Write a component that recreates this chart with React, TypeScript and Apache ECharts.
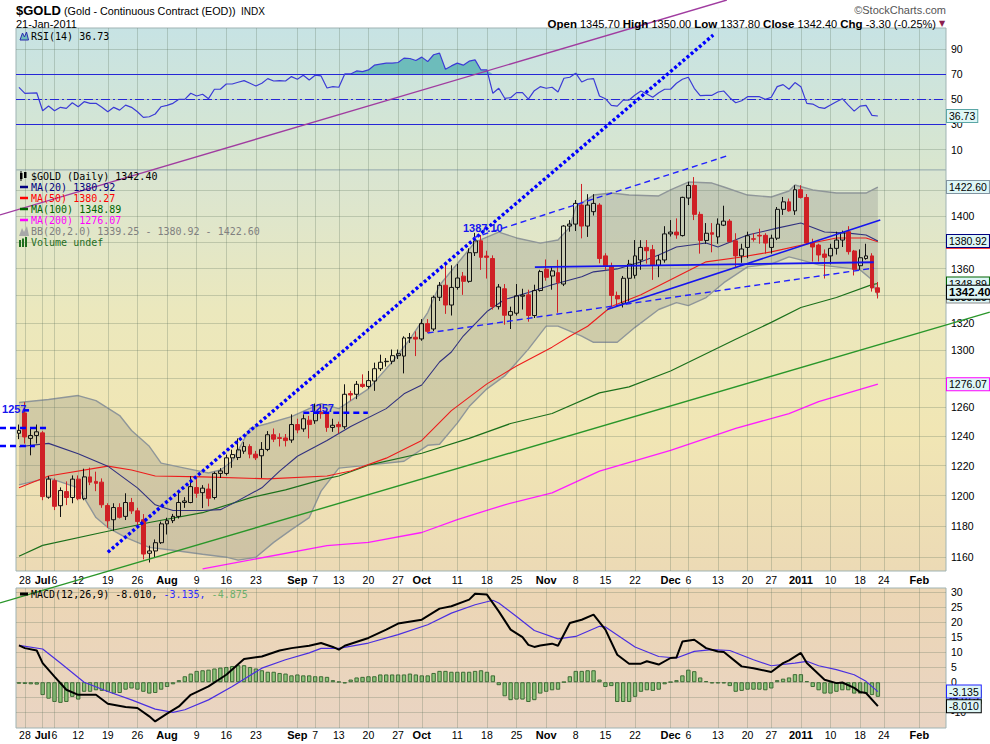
import React, { useEffect, useRef } from "react";
import * as echarts from "echarts";

const FONT = '"Liberation Sans", Arial, Helvetica, sans-serif';
const MONO = '"DejaVu Sans Mono", "Liberation Mono", monospace';

// ---------- calendar ----------
const START_DATE = "2010-06-25";
const HOLIDAYS = ["2010-07-05", "2010-09-06", "2010-11-25", "2010-12-24", "2011-01-17"];
const SLOT_COUNT = 157;
function tradingDays(): string[] {
  const out: string[] = [];
  const d = new Date(START_DATE + "T12:00:00Z");
  while (out.length < SLOT_COUNT) {
    const wd = d.getUTCDay();
    const s = d.toISOString().slice(0, 10);
    if (wd !== 0 && wd !== 6 && HOLIDAYS.indexOf(s) < 0) out.push(s);
    d.setUTCDate(d.getUTCDate() + 1);
  }
  return out;
}
const DAYS = tradingDays();

// x tick labels: [day index, text]
const X_TICKS: Array<[number, string]> = [
  [1, "28"], [4, "Jul"], [6, "6"], [10, "12"], [15, "19"], [20, "26"], [25, "Aug"], [30, "9"],
  [35, "16"], [40, "23"], [47, "Sep"], [50, "7"], [54, "13"], [59, "20"], [64, "27"], [68, "Oct"],
  [74, "11"], [79, "18"], [84, "25"], [89, "Nov"], [94, "8"], [99, "15"], [104, "22"], [110, "Dec"],
  [113, "6"], [118, "13"], [123, "20"], [127, "27"], [132, "2011"], [137, "10"], [142, "18"],
  [146, "24"], [152, "Feb"],
];
const BOLD_TICKS = ["Jul", "Aug", "Sep", "Oct", "Nov", "Dec", "2011", "Feb"];

// ---------- price (OHLC) ----------
const OPEN = [
  1242, 1256, 1238.5, 1240.5, 1242.3, 1199, 1210, 1193.4, 1202.7, 1198.8,
  1211, 1198, 1212.5, 1209.5, 1209, 1193.5, 1184.2, 1192.2, 1186.4, 1195.5,
  1190, 1184.2, 1162.5, 1164, 1169.3, 1181.5, 1183.6, 1186.4, 1195.5, 1195.5,
  1205.4, 1202, 1204.4, 1198.8, 1214.8, 1214.8, 1225.3, 1225.5, 1229.8, 1233,
  1227.8, 1226.7, 1231, 1241, 1239, 1238.8, 1237.4, 1248, 1245, 1251,
  1250.6, 1256.5, 1256, 1246, 1248, 1246.5, 1269.5, 1269, 1276, 1274.5,
  1278.3, 1287, 1292, 1292.3, 1296.3, 1296, 1309, 1309.5, 1308.3, 1319.4,
  1315.5, 1338.7, 1347.6, 1333, 1346, 1354.4, 1350.5, 1372, 1381, 1369.5,
  1367.6, 1331.8, 1345, 1325.5, 1327, 1339.5, 1340.5, 1325.3, 1343.7, 1359.5,
  1354.5, 1357, 1348.5, 1392.3, 1393.8, 1408.5, 1392.3, 1403.4, 1408.5, 1369.6,
  1362, 1340, 1334.3, 1352.8, 1355, 1366.5, 1376, 1374.3, 1362.5, 1366.5,
  1386.3, 1387.7, 1385, 1414, 1423.8, 1401.3, 1381.3, 1387.2, 1384, 1393,
  1396.1, 1381, 1369.6, 1376, 1382.6, 1385.2, 1385.2, 1376, 1383, 1405.2,
  1411, 1404, 1420.5, 1414.4, 1379.3, 1377.8, 1371, 1369.6, 1375.3, 1381.6,
  1388, 1373.3, 1362.2, 1367.6, 1369.6, 1345.7,
];
const HIGH = [
  1248, 1263.5, 1245, 1248, 1243.5, 1213, 1211.5, 1205.5, 1209.5, 1213.5,
  1213.5, 1218, 1218.7, 1216, 1211.5, 1195, 1195, 1195, 1201.6, 1198.5,
  1192, 1187.9, 1167.4, 1171.4, 1183, 1185.5, 1188, 1203, 1199, 1213,
  1211.8, 1207, 1208, 1216, 1218.4, 1227.5, 1230.8, 1238.5, 1236, 1234.5,
  1230, 1236, 1243.5, 1245.3, 1242, 1241.5, 1255, 1252, 1255, 1254,
  1262.5, 1262, 1258.5, 1252, 1250, 1276, 1271.4, 1278.3, 1283, 1285.4,
  1291.3, 1297, 1294.6, 1300.7, 1300.7, 1310.2, 1312.6, 1313.8, 1322.7, 1322.7,
  1340, 1350, 1365, 1362.5, 1363.5, 1357.5, 1375.3, 1387.1, 1385.5, 1373.5,
  1370, 1348.5, 1348.5, 1331.8, 1348.5, 1345, 1344.3, 1348, 1359.1, 1366.9,
  1361, 1366.6, 1393, 1396.9, 1412.4, 1425, 1417, 1417, 1410, 1371.6,
  1364.5, 1342.9, 1354.5, 1366.6, 1381.6, 1381.5, 1381.6, 1377.9, 1370.3, 1392.2,
  1396.9, 1398.2, 1415, 1426.7, 1430.4, 1403.4, 1394.6, 1394.6, 1398.2, 1408,
  1397.7, 1386.8, 1378.8, 1388, 1386.8, 1390.3, 1386.8, 1385.7, 1407, 1414.8,
  1413.6, 1424, 1424, 1417.1, 1382.6, 1378.8, 1374.5, 1378.8, 1388, 1388.8,
  1392.2, 1374.1, 1374.5, 1378.8, 1371.6, 1350,
];
const LOW = [
  1238, 1235, 1227, 1235, 1197, 1198, 1190.5, 1186, 1193.8, 1195,
  1197, 1197, 1207, 1203, 1192, 1179, 1177, 1185, 1184, 1188,
  1180.5, 1158.6, 1156.6, 1160, 1168.5, 1174.6, 1182, 1185, 1192, 1195,
  1198.6, 1191.8, 1193, 1197.5, 1211.8, 1213.5, 1218.6, 1223.8, 1228, 1225,
  1223.8, 1211.8, 1229.8, 1236, 1233, 1233, 1235.5, 1242, 1243, 1238.5,
  1248.5, 1252, 1243, 1243, 1242, 1245, 1264.5, 1265.6, 1273.5, 1273,
  1271.4, 1285.4, 1288.5, 1290.2, 1293.9, 1283.7, 1305.4, 1296, 1307, 1312.6,
  1314, 1336, 1326.5, 1325.3, 1344.3, 1340.5, 1349.5, 1369.5, 1359.1, 1352.6,
  1329.7, 1329.7, 1318.6, 1315.5, 1325.3, 1329.7, 1320.8, 1323.5, 1342.9, 1351,
  1344.3, 1327.3, 1347, 1388, 1388.5, 1382.9, 1384, 1400.4, 1364, 1359.1,
  1331.8, 1332.6, 1331.2, 1335.5, 1352.6, 1359.1, 1363.8, 1351.6, 1353.6, 1364.5,
  1384.3, 1382.6, 1384.3, 1408.5, 1396.9, 1371.3, 1378.8, 1372.3, 1378.8, 1392.3,
  1380, 1361.3, 1364.4, 1367.9, 1380.4, 1378.8, 1371.3, 1371.3, 1381.6, 1400.9,
  1403.4, 1400.9, 1413.6, 1377.9, 1365.3, 1365.3, 1352.6, 1363.2, 1370.6, 1376.3,
  1370.6, 1354.9, 1359.1, 1366.7, 1342.9, 1337.8,
];
const CLOSE = [
  1244, 1239.5, 1240.5, 1243, 1199.4, 1211, 1193, 1203.4, 1198.8, 1211,
  1198, 1212.5, 1209, 1208.2, 1194, 1183.5, 1192.2, 1185.8, 1195.5, 1190,
  1183, 1162, 1164, 1169.3, 1181.5, 1183.6, 1186.4, 1195.5, 1196.5, 1206,
  1201.6, 1205, 1198.3, 1214.8, 1216.5, 1225.3, 1227.5, 1230.7, 1233, 1227.8,
  1225.3, 1231, 1241, 1238, 1238.5, 1237, 1248, 1244.3, 1252, 1248,
  1256.4, 1255.5, 1246, 1247.5, 1246.5, 1269, 1268.5, 1276, 1274.5, 1278.6,
  1287, 1291.6, 1292.3, 1296.3, 1297.7, 1309, 1309.2, 1308.2, 1319.4, 1313.8,
  1338.7, 1347.6, 1333, 1346, 1353, 1350.5, 1372, 1381, 1368.5, 1368.5,
  1331.8, 1346.3, 1325.5, 1328.2, 1339.8, 1340.3, 1325.3, 1343.7, 1357.8, 1353.5,
  1358.3, 1349.7, 1392.3, 1393.8, 1409.8, 1392.3, 1408.5, 1409.8, 1367.6, 1362.2,
  1340, 1337.5, 1352.8, 1363.4, 1369.6, 1376, 1373.5, 1362.5, 1366.5, 1386.3,
  1387.7, 1385.5, 1414.5, 1423.8, 1401.3, 1381.3, 1386.8, 1386, 1393.8, 1396.1,
  1380.3, 1369.6, 1374.8, 1384.9, 1382.2, 1384.7, 1379.3, 1383, 1405.2, 1411,
  1404, 1420.5, 1414.4, 1379.3, 1376.3, 1370.3, 1368.5, 1375.3, 1381.6, 1387.2,
  1372.8, 1359.5, 1368.2, 1369.6, 1345.6, 1342.4,
];

// ---------- overlays: [day index, value] ----------
const MA20: Array<[number, number]> = [
  [0, 1232.8], [5, 1235.1], [10, 1228.1], [15, 1219.7], [20, 1205.2], [23, 1194], [26, 1190.2],
  [31, 1190.2], [34, 1190.8], [36, 1194.6], [41, 1205.2], [44, 1216.4], [47, 1226.4], [52, 1237.1],
  [56, 1246.7], [62, 1259], [65, 1269.3], [68, 1275.5], [71, 1291.8], [73, 1298.9], [75, 1310.4],
  [79, 1328.2], [82, 1337], [86, 1342.2], [90, 1348], [95, 1354], [97, 1357.6], [101, 1359.8],
  [105, 1365.1], [108, 1370.3], [111, 1376.3], [116, 1379.3], [118, 1376.3], [123, 1385.4],
  [128, 1390.7], [132, 1394.6], [136, 1387.7], [140, 1386.9], [143, 1385.4], [145, 1380.92],
];
const MA50: Array<[number, number]> = [
  [0, 1205.2], [5, 1213.1], [15, 1219.7], [19, 1217.1], [23, 1213.1], [31, 1212.5], [42, 1211.2],
  [52, 1213.1], [56, 1216.4], [62, 1225.1], [68, 1237.1], [73, 1257.6], [79, 1276.3], [84, 1288.9],
  [90, 1302.4], [93, 1310.2], [96, 1317.5], [100, 1331.9], [105, 1340.6], [111, 1354], [116, 1365.1],
  [122, 1368.8], [127, 1372.6], [133, 1378.6], [138, 1383.2], [143, 1383.2], [145, 1380.27],
];
const MA100: Array<[number, number]> = [
  [0, 1160.6], [4, 1167.6], [14, 1175.9], [22, 1182.4], [31, 1188.8], [39, 1198.6], [45, 1203.9],
  [51, 1210.5], [54, 1213.1], [59, 1220.4], [68, 1228.4], [76, 1238.5], [83, 1248.7], [90, 1255.6],
  [98, 1270], [103, 1274.2], [110, 1285.4], [121, 1308.1], [127, 1320.3], [132, 1331.2],
  [138, 1338.5], [144, 1348.1], [145, 1348.89],
];
const MA200: Array<[number, number]> = [
  [31, 1152.6], [52, 1167.4], [59, 1169.5], [68, 1175.9], [74, 1184.3], [82, 1194], [90, 1201.9],
  [98, 1216.4], [110, 1230.4], [121, 1245.3], [130, 1255.6], [135, 1263.8], [145, 1276.07],
];
const BB_UPPER: Array<[number, number]> = [
  [0, 1263.3], [5, 1265.3], [10, 1268.1], [13, 1264.6], [17, 1254.2], [19, 1243.9], [22, 1233.1],
  [24, 1221.7], [28, 1218.4], [32, 1215.1], [34, 1217.1], [36, 1223], [39, 1245.3], [42, 1248.7],
  [46, 1253.5], [49, 1259], [51, 1262.5], [54, 1259], [59, 1272.8], [63, 1291.8], [66, 1308.1],
  [69, 1327.5], [71, 1347.6], [74, 1363.7], [77, 1380.1], [81, 1387.7], [84, 1383.2], [88, 1379.3],
  [91, 1381.6], [93, 1391.5], [94, 1406.9], [97, 1416.3], [100, 1417.9], [103, 1416.3],
  [108, 1415.6], [110, 1420.3], [113, 1426.5], [117, 1425.7], [119, 1422.6], [123, 1416.3],
  [127, 1414.8], [130, 1419.5], [131, 1424.2], [134, 1420.3], [138, 1417.9], [143, 1417.9],
  [145, 1422.6],
];
const BB_LOWER: Array<[number, number]> = [
  [0, 1207.2], [5, 1211.8], [10, 1205.2], [13, 1185.6], [15, 1179.1], [18, 1172.7], [22, 1166.3],
  [26, 1164.4], [31, 1161.9], [35, 1160], [37, 1158.1], [40, 1160], [43, 1169.5], [46, 1177.8],
  [49, 1185.6], [51, 1203], [54, 1218.4], [59, 1220.4], [65, 1223], [69, 1233.8], [71, 1234.5],
  [74, 1249], [76, 1260.4], [79, 1272.8], [82, 1281.9], [86, 1301], [89, 1317.6], [91, 1317.6],
  [95, 1310.3], [97, 1305.9], [101, 1305.9], [104, 1316.7], [108, 1329.7], [111, 1334.8],
  [113, 1332.6], [116, 1338.5], [119, 1349.5], [123, 1361.3], [127, 1363.5], [130, 1368.8],
  [132, 1366.6], [135, 1362.8], [138, 1361.3], [142, 1359.1], [144, 1351.7], [145, 1339.25],
];

// ---------- RSI(14) ----------
const RSI = [
  59.5, 54.7, 55, 55.2, 40.9, 44.6, 40.9, 43.6, 42.8, 47.3,
  44.1, 48.1, 46.8, 46.8, 43.6, 40.1, 43.6, 41.4, 45.4, 43.6,
  40.1, 35.6, 36.1, 38.3, 44.1, 45.2, 46.8, 50, 50, 54.8,
  52.6, 54, 50.5, 58, 58, 62.2, 62.2, 63.6, 64.9, 62.8,
  60.6, 62.8, 66.5, 64.6, 64.9, 64.6, 68.1, 66, 69.2, 65.4,
  69.2, 68.6, 59, 60.1, 59.6, 70.2, 70.2, 72.6, 72.1, 73.4,
  77.2, 78, 78.8, 78.8, 79.3, 82.8, 82.5, 80.9, 83.6, 80.1,
  85.5, 86.8, 74, 76.6, 78.8, 77.2, 80.4, 81.4, 73.4, 73.4,
  54.8, 58.8, 50.8, 51.3, 55.3, 55.3, 50.2, 56.9, 60.1, 58.8,
  59.6, 55.8, 66.8, 67.6, 70.8, 63.8, 66, 66.5, 52.6, 50.5,
  45.2, 44.6, 49.4, 49.4, 53.4, 56.6, 54.2, 51.6, 55.3, 58,
  58, 62.8, 66, 67.6, 58.8, 52.9, 53.2, 53.2, 55.8, 56.6,
  51.3, 47.3, 48.9, 52.1, 52.1, 52.1, 50, 51.6, 60.1, 61.7,
  58, 63.3, 60.1, 46.8, 46.2, 43.6, 42.8, 45.4, 48.1, 50.5,
  45.4, 40.6, 44.6, 45.2, 37.2, 36.73,
];

// ---------- MACD(12,26,9) ----------
const MACD_LINE: Array<[number, number]> = [
  [0, 12.3], [1, 11.4], [3, 10.6], [4, 6.4], [6, 1.9], [8, -2.5], [10, -4.2], [13, -4.2], [15, -7.2],
  [18, -8.3], [20, -8.6], [22, -11.4], [23, -13.1], [25, -10.5], [27, -8.1], [29, -4.2], [32, -1.4],
  [35, 2.5], [38, 7.8], [41, 8.6], [44, 10.6], [46, 11.4], [49, 12.2], [51, 13.1], [53, 11.8],
  [54, 10.9], [55, 12.2], [59, 14.8], [62, 17.6], [64, 19.6], [68, 20.9], [71, 24.6], [73, 25.4],
  [76, 27.6], [77, 29.6], [79, 29.3], [81, 23.7], [83, 17.6], [85, 15.1], [86, 12.5], [87, 11.8],
  [88, 12.3], [90, 12.9], [91, 12.2], [93, 19.8], [95, 20.9], [97, 22.6], [99, 17.6], [101, 9.2],
  [103, 6.2], [105, 6.2], [106, 7.0], [108, 5.9], [110, 8.1], [111, 8.3], [112, 13.6], [114, 14.2],
  [116, 11.4], [118, 10.3], [119, 10.1], [122, 5.3], [124, 4.7], [127, 3.4], [129, 6.4], [130, 7.3],
  [132, 9.8], [133, 6.4], [136, 0.8], [138, -0.3], [139, -0.1], [141, -1.9], [142, -3.3], [143, -3.6],
  [145, -8.01],
];
const MACD_SIGNAL: Array<[number, number]> = [
  [0, 12.3], [4, 11.1], [7, 6.4], [11, 0], [15, -3.1], [19, -5.9], [23, -9.0], [26, -10.1], [28, -9.2],
  [32, -5.9], [36, -1.4], [41, 4.7], [45, 7.5], [49, 9.8], [51, 11.3], [54, 11.3], [59, 13.1],
  [64, 15.9], [69, 19.2], [73, 23.1], [77, 25.9], [80, 27.4], [81, 26.5], [84, 22], [87, 17.3],
  [91, 14.5], [94, 15.3], [98, 18.7], [99, 18.5], [104, 11.8], [108, 8.6], [111, 8.1], [114, 10.3],
  [117, 10.9], [120, 10.6], [124, 7.5], [127, 5.5], [131, 6.4], [133, 7.0], [135, 5.5], [138, 4.2],
  [141, 2.5], [143, 0.3], [145, -3.135],
];
const MACD_HIST = [
  -0.5, -0.6, -0.7, -0.8,
  -4.3, -5.5, -6.6, -6.9, -6.6, -4.9, -5.8, -3.2, -3.2, -2.7,
  -2.9, -3.2, -3.8, -3.6, -2.5, -2.1, -2.5, -3.2, -3.8, -3.6,
  -2.5, -1.6, -0.7, 0.7, 2.0, 2.9, 3.8, 4.0, 4.2, 4.6,
  4.9, 5.1, 5.4, 5.7, 5.7, 5.1, 4.6, 4.0, 3.5, 3.5,
  3.1, 2.9, 2.3, 2.6, 2.3, 2.3, 2.0, 2.0, 1.8, 0.7,
  0.2, -0.4, 0.9, 1.6, 1.8, 2.0, 2.0, 2.6, 2.6, 2.6,
  2.6, 2.6, 2.9, 2.6, 2.3, 2.3, 3.1, 3.8, 3.8, 3.5,
  3.5, 3.5, 3.5, 3.8, 4.0, 3.5, 2.3, -1.0,
  -4.7, -6.0, -5.8, -5.8, -6.6, -6.0, -3.8, -3.2, -2.7, -2.5,
  0.1, 2.0, 3.8, 3.8, 4.0, 4.0, 0.9, -1.6, -1.3, -6.6,
  -6.6, -6.6, -4.9, -3.2, -2.7, -2.9, -2.5, -0.7, 0.1, 0.7,
  2.3, 4.2, 3.7, 1.6, 0.4, -0.4, -0.4, -0.4, -1.3, -3.2,
  -2.9, -2.5, -2.5, -2.5, -2.7, -2.1, 0.7, 1.2, 1.6, 2.7,
  2.7, 0.4, -1.6, -2.7, -3.8, -3.8, -3.2, -2.7, -2.7, -3.8,
  -3.8, -3.8, -4.3, -4.875,
];

// ---------- axes ----------
const RSI_RANGE = [-6.3, 106.8];
const RSI_TICKS = [10, 30, 50, 70, 90];
const PRICE_RANGE = [1151.2, 1436];
const PRICE_GRID = [1160, 1180, 1200, 1220, 1240, 1260, 1280, 1300, 1320, 1340, 1360, 1380, 1400, 1420];
const PRICE_LABELS = [1160, 1180, 1200, 1220, 1240, 1260, 1300, 1320, 1360, 1400];
const MACD_RANGE = [-15.3, 31.5];
const MACD_GRID = [-10, -5, 0, 5, 10, 15, 20, 25, 30];
const MACD_LABELS = [-10, 0, 5, 10, 15, 20, 25, 30];

// ---------- right-hand value boxes ----------
const RSI_BOXES = [{ v: 36.73, text: "36.73", c: "#5aa6a6", bold: false }];
const PRICE_BOXES = [
  { v: 1339.25, text: "1339.25", c: "#8a8a8a", bold: false },
  { v: 1276.07, text: "1276.07", c: "#ff00ff", bold: false },
  { v: 1422.6, text: "1422.60", c: "#8093a0", bold: false },
  { v: 1380.27, text: "1380.27", c: "#ff0000", bold: false },
  { v: 1380.92, text: "1380.92", c: "#000080", bold: false },
  { v: 1348.89, text: "1348.89", c: "#006400", bold: false },
  { v: 1342.4, text: "1342.40", c: "#000000", bold: true },
];
const MACD_BOXES = [
  { v: -4.875, text: "-4.875", c: "#66aa66", bold: false },
  { v: -3.135, text: "-3.135", c: "#2222ff", bold: false },
  { v: -8.01, text: "-8.010", c: "#000000", bold: false },
];

// ---------- hand-drawn trend lines (panel, from [day, value], to [day, value]) ----------
const TRENDS = [
  { panel: "rsi", from: [-3.2, -42.1], to: [119.5, 129.1], color: "#a03ca0", width: 1.4, dash: null },
  { panel: "price", from: [-3.2, 1131.1], to: [163.9, 1327.8], color: "#2a962a", width: 1.4, dash: null },
  { panel: "price", from: [15, 1163.2], to: [117.2, 1546.9], color: "#0000ff", width: 3.4, dash: [3, 2.4] },
  { panel: "price", from: [76.65, 1383.3], to: [120, 1447.9], color: "#2020ff", width: 1.4, dash: [6, 4] },
  { panel: "price", from: [69, 1312.6], to: [144.3, 1360.4], color: "#2020ff", width: 1.4, dash: [6, 4] },
  { panel: "price", from: [87.1, 1361.1], to: [144.3, 1364.8], color: "#1414ee", width: 1.8, dash: null },
  { panel: "price", from: [99.3, 1329.7], to: [145.4, 1396.9], color: "#1414ee", width: 1.5, dash: null },
  { panel: "price", from: [-3.2, 1245.6], to: [4.9, 1245.6], color: "#0000ff", width: 2.6, dash: [6, 4] },
  { panel: "price", from: [-3.2, 1233.3], to: [2.7, 1233.3], color: "#0000ff", width: 2.6, dash: [6, 4] },
  { panel: "price", from: [0.7, 1257.8], to: [1.7, 1257.8], color: "#0000ff", width: 2.6, dash: null },
  { panel: "price", from: [48, 1256.1], to: [58.9, 1256.1], color: "#0000ff", width: 2.6, dash: [6, 4] },
];
const NOTES = [
  { panel: "price", at: [-2.86, 1258.6], text: "1257", align: "left" },
  { panel: "price", at: [51.1, 1259.7], text: "1257", align: "center" },
  { panel: "price", at: [78.3, 1390.8], text: "1387.10", align: "center" },
];

const PRICE_LEGEND = [
  { text: "$GOLD (Daily) 1342.40", color: "#000000", icon: "candle" },
  { text: "MA(20) 1380.92", color: "#000080", icon: "line" },
  { text: "MA(50) 1380.27", color: "#ff0000", icon: "line" },
  { text: "MA(100) 1348.89", color: "#006400", icon: "line" },
  { text: "MA(200) 1276.07", color: "#ff00ff", icon: "line" },
  { text: "BB(20,2.0) 1339.25 - 1380.92 - 1422.60", color: "#808080", icon: "area" },
  { text: "Volume undef", color: "#1f6e1f", icon: "bars" },
];

// ---------- styling ----------
const GRID_LEFT = 16;
const GRID_W = 930;
const BORDER = "#9fb3b3";
const GLINE = "rgba(95,115,95,0.28)";

const ln = Math.log;
const grad = (stops: Array<[number, string]>) =>
  new echarts.graphic.LinearGradient(0, 0, 0, 1, stops.map(([o, c]) => ({ offset: o, color: c })));

const tickMap = new Map<number, string>(X_TICKS);

function xAxis(gridIndex: number, showLabels: boolean, margin: number) {
  return {
    type: "category",
    gridIndex,
    data: DAYS,
    boundaryGap: true,
    axisLine: { show: false },
    axisTick: { show: false },
    splitLine: { show: false },
    axisLabel: showLabels
      ? {
          interval: (i: number) => tickMap.has(i),
          margin,
          formatter: (_v: string, i: number) => {
            const t = tickMap.get(i) || "";
            return BOLD_TICKS.indexOf(t) >= 0 ? "{b|" + t + "}" : "{n|" + t + "}";
          },
          rich: {
            b: { fontFamily: FONT, fontSize: 11, fontWeight: "bold", color: "#000" },
            n: { fontFamily: FONT, fontSize: 10.5, color: "#000" },
          },
        }
      : { show: false },
  };
}

function yAxis(gridIndex: number, range: number[], grid: number[], labels: number[], fmt: (v: number) => string) {
  return {
    type: "value",
    gridIndex,
    position: "right",
    min: range[0],
    max: range[1],
    axisLine: { show: false },
    axisTick: { show: false, customValues: grid },
    axisLabel: {
      customValues: labels,
      formatter: fmt,
      color: "#000",
      fontFamily: FONT,
      fontSize: 10.5,
      margin: 5,
    },
    splitLine: { show: true, lineStyle: { color: GLINE, width: 1 } },
  };
}

function vGridSeries(ix: number) {
  return {
    type: "line",
    xAxisIndex: ix,
    yAxisIndex: ix,
    data: [],
    silent: true,
    z: 1,
    symbol: "none",
    markLine: {
      silent: true,
      symbol: ["none", "none"],
      precision: 8,
      label: { show: false },
      lineStyle: { color: GLINE, width: 1, type: "solid" },
      data: X_TICKS.map(([i]) => ({ xAxis: DAYS[i] })),
    },
  };
}

function boxSeries(ix: number, boxes: any[], tf: (v: number) => number) {
  return {
    type: "line",
    xAxisIndex: ix,
    yAxisIndex: ix,
    data: [],
    silent: true,
    z: 20,
    symbol: "none",
    markLine: {
      silent: true,
      symbol: ["none", "none"],
      precision: 10,
      lineStyle: { color: "rgba(0,0,0,0)", width: 0 },
      data: boxes.map((b) => ({
        yAxis: tf(b.v),
        lineStyle: { color: "rgba(0,0,0,0)", width: 0 },
        label: {
          show: true,
          position: "end",
          distance: 1,
          formatter: b.text,
          color: "#000",
          fontFamily: FONT,
          fontSize: b.bold ? 11.5 : 10.5,
          fontWeight: b.bold ? "bold" : "normal",
          backgroundColor: "#def6f6",
          borderColor: b.c,
          borderWidth: 1,
          padding: b.bold ? [1, 1, 0, 2] : [1, 2, 0, 2],
        },
      })),
    },
  };
}

function buildOption() {
  const lnPair = (arr: Array<[number, number]>) => arr.map(([i, v]) => [i, ln(v)]);
  const lineS = (data: any[], color: string, width: number, z = 4) => ({
    type: "line",
    xAxisIndex: 1,
    yAxisIndex: 1,
    data,
    symbol: "none",
    silent: true,
    z,
    lineStyle: { color, width },
  });
  return {
    animation: false,
    backgroundColor: "#ffffff",
    grid: [
      {
        left: GRID_LEFT, top: 28, width: GRID_W, height: 142, show: true,
        backgroundColor: grad([[0, "#c7e3e4"], [1, "#d9e6ce"]]), borderColor: BORDER, borderWidth: 1,
      },
      {
        left: GRID_LEFT, top: 170, width: GRID_W, height: 401, show: true,
        backgroundColor: grad([[0, "#d9e5d2"], [0.35, "#ebe8bd"], [0.65, "#f1e6b4"], [1, "#ecdab5"]]),
        borderColor: BORDER, borderWidth: 1,
      },
      {
        left: GRID_LEFT, top: 588, width: GRID_W, height: 140, show: true,
        backgroundColor: grad([[0, "#ecd6b4"], [1, "#e9d4c3"]]), borderColor: BORDER, borderWidth: 1,
      },
    ],
    xAxis: [xAxis(0, false, 0), xAxis(1, true, 3), xAxis(2, true, 1)],
    yAxis: [
      yAxis(0, RSI_RANGE, RSI_TICKS, RSI_TICKS, (v: number) => String(Math.round(v))),
      yAxis(1, PRICE_RANGE.map(ln), PRICE_GRID.map(ln), PRICE_LABELS.map(ln), (v: number) => String(Math.round(Math.exp(v)))),
      yAxis(2, MACD_RANGE, MACD_GRID, MACD_LABELS, (v: number) => String(Math.round(v))),
    ],
    series: [
      // ---- RSI panel ----
      vGridSeries(0),
      {
        type: "line", xAxisIndex: 0, yAxisIndex: 0, data: [], silent: true, z: 2, symbol: "none",
        markLine: {
          silent: true, symbol: ["none", "none"], precision: 8, label: { show: false },
          data: [
            { yAxis: 70, lineStyle: { color: "#2626d6", width: 1.2, type: "solid" } },
            { yAxis: 30, lineStyle: { color: "#2626d6", width: 1.2, type: "solid" } },
            { yAxis: 50, lineStyle: { color: "#2626d6", width: 1, type: [9, 3, 2, 3] } },
          ],
        },
      },
      {
        type: "line", xAxisIndex: 0, yAxisIndex: 0, stack: "rsi", silent: true, z: 3, symbol: "none",
        data: RSI.map(() => 70), lineStyle: { opacity: 0, width: 0 },
      },
      {
        type: "line", xAxisIndex: 0, yAxisIndex: 0, stack: "rsi", silent: true, z: 3, symbol: "none",
        data: RSI.map((v) => Math.max(v, 70) - 70), lineStyle: { opacity: 0, width: 0 },
        areaStyle: { color: "#6dbcbb", opacity: 1 },
      },
      {
        type: "line", xAxisIndex: 0, yAxisIndex: 0, silent: true, z: 5, symbol: "none",
        data: RSI, lineStyle: { color: "#3b3bd6", width: 1.2 },
      },
      boxSeries(0, RSI_BOXES, (v) => v),

      // ---- price panel ----
      vGridSeries(1),
      {
        type: "custom", xAxisIndex: 1, yAxisIndex: 1, silent: true, z: 2, clip: true,
        data: [[0, ln(1300)]],
        renderItem: (params: any, api: any) => {
          const up = BB_UPPER.map(([i, v]) => api.coord([i, ln(v)]));
          const lo = BB_LOWER.slice().reverse().map(([i, v]) => api.coord([i, ln(v)]));
          return {
            type: "polygon",
            shape: { points: up.concat(lo) },
            style: { fill: "rgba(120,122,120,0.26)" },
            silent: true,
          };
        },
      },
      lineS(lnPair(BB_UPPER), "#8f9699", 1.4, 3),
      lineS(lnPair(BB_LOWER), "#8f9699", 1.4, 3),
      lineS(lnPair(MA200), "#ff1cff", 1.3),
      lineS(lnPair(MA100), "#1b701b", 1.2),
      lineS(lnPair(MA50), "#ee1c1c", 1.1),
      lineS(lnPair(MA20), "#30307f", 1.1),
      {
        type: "candlestick",
        xAxisIndex: 1,
        yAxisIndex: 1,
        silent: true,
        z: 6,
        barWidth: "74%",
        data: OPEN.map((o, i) => [ln(o), ln(CLOSE[i]), ln(LOW[i]), ln(HIGH[i])]),
        itemStyle: {
          color: "rgba(0,0,0,0)",
          color0: "#cf2026",
          borderColor: "#111111",
          borderColor0: "#cf2026",
          borderWidth: 1,
        },
      },
      boxSeries(1, PRICE_BOXES, (v) => ln(v)),

      // ---- MACD panel ----
      vGridSeries(2),
      {
        type: "bar", xAxisIndex: 2, yAxisIndex: 2, silent: true, z: 3, barWidth: "74%",
        data: MACD_HIST,
        itemStyle: { color: "#8dc47a", borderColor: "#3d6b35", borderWidth: 1 },
      },
      {
        type: "line", xAxisIndex: 2, yAxisIndex: 2, silent: true, z: 5, symbol: "none",
        data: MACD_SIGNAL, lineStyle: { color: "#4a2fe0", width: 1.2 },
      },
      {
        type: "line", xAxisIndex: 2, yAxisIndex: 2, silent: true, z: 6, symbol: "none",
        data: MACD_LINE, lineStyle: { color: "#000000", width: 2 },
      },
      boxSeries(2, MACD_BOXES, (v) => v),
    ],
  };
}

function text(x: number, y: number, t: string, o: any = {}) {
  return {
    type: "text",
    x,
    y,
    z: 60,
    silent: true,
    style: {
      text: t,
      fill: o.fill || "#000",
      fontFamily: o.family || FONT,
      fontSize: o.size || 11,
      fontWeight: o.weight || "normal",
      align: o.align || "left",
      verticalAlign: "middle",
      textAlign: o.align || "left",
      textVerticalAlign: "middle",
      rich: o.rich,
    },
  };
}

function buildGraphics(chart: any) {
  const ref = ln(1300);
  const a = chart.convertToPixel({ gridIndex: 1 }, [0, ref]);
  const b = chart.convertToPixel({ gridIndex: 1 }, [100, ref]);
  const px = (i: number) => a[0] + ((b[0] - a[0]) * i) / 100;
  const py = (panel: string, v: number) => {
    const g = panel === "rsi" ? 0 : panel === "price" ? 1 : 2;
    const val = panel === "price" ? ln(v) : v;
    return chart.convertToPixel({ gridIndex: g }, [0, val])[1];
  };
  const els: any[] = [];

  // header
  els.push(text(16, 10.5, "$GOLD", { size: 13, weight: "bold" }));
  els.push(text(64, 11, "(Gold - Continuous Contract (EOD))", { size: 10.8 }));
  els.push(text(241, 11, "INDX", { size: 10 }));
  els.push(text(16, 23.5, "21-Jan-2011", { size: 11 }));
  els.push(text(946, 10, "\u00A9StockCharts.com", { size: 11, align: "right", fill: "#555" }));
  els.push(
    text(936, 23.5, "{b|Open} 1345.70 {b|High} 1350.00 {b|Low} 1337.80 {b|Close} 1342.40 {b|Chg} -3.30 (-0.25%)", {
      size: 11,
      align: "right",
      rich: { b: { fontWeight: "bold", fontSize: 11.5, fontFamily: FONT, fill: "#000" } },
    })
  );
  els.push(text(942, 23, "\u25BC", { size: 8, align: "center", fill: "#8b1f4f", family: '"DejaVu Sans", sans-serif' }));

  // RSI legend
  els.push({
    type: "polygon", z: 60, silent: true,
    shape: { points: [[20, 40], [22.5, 33], [24.5, 37], [26.5, 32], [28.5, 40]] },
    style: { fill: "#6dbcbb", stroke: "#2a2ab0", lineWidth: 1 },
  });
  els.push(text(31, 36, "RSI(14) 36.73", { family: MONO, size: 10 }));

  // price legend
  PRICE_LEGEND.forEach((r, k) => {
    const y = 176 + k * 11;
    if (r.icon === "line") {
      els.push({ type: "line", z: 60, silent: true, shape: { x1: 20, y1: y, x2: 28, y2: y }, style: { stroke: r.color, lineWidth: 2.5 } });
    } else if (r.icon === "candle") {
      els.push({ type: "rect", z: 60, silent: true, shape: { x: 20, y: y - 3, width: 2.5, height: 6 }, style: { fill: "#000" } });
      els.push({ type: "rect", z: 60, silent: true, shape: { x: 24, y: y - 4, width: 2.5, height: 6 }, style: { fill: "#000" } });
      els.push({ type: "line", z: 60, silent: true, shape: { x1: 21, y1: y - 5, x2: 21, y2: y + 5 }, style: { stroke: "#000", lineWidth: 1 } });
    } else if (r.icon === "area") {
      els.push({
        type: "polygon", z: 60, silent: true,
        shape: { points: [[19, y + 5], [22, y - 3], [24, y + 1], [27, y - 5], [29, y + 5]] },
        style: { fill: "#a8a8a8" },
      });
    } else {
      [19, 22, 25].forEach((x, j) =>
        els.push({ type: "rect", z: 60, silent: true, shape: { x, y: y - 2 - j * 1.5, width: 2, height: 7 + j * 1.5 }, style: { fill: "#1f6e1f" } })
      );
    }
    els.push(text(31, y, r.text, { family: MONO, size: 10, fill: r.color }));
  });

  // MACD legend
  els.push({ type: "line", z: 60, silent: true, shape: { x1: 20, y1: 594, x2: 28, y2: 594 }, style: { stroke: "#000", lineWidth: 3 } });
  els.push(
    text(31, 594, "{k|MACD(12,26,9) -8.010,}{s| -3.135,}{h| -4.875}", {
      family: MONO,
      size: 10,
      rich: {
        k: { fontFamily: MONO, fontSize: 10, fill: "#000" },
        s: { fontFamily: MONO, fontSize: 10, fill: "#3030ff" },
        h: { fontFamily: MONO, fontSize: 10, fill: "#6cb06c" },
      },
    })
  );

  // trend lines
  TRENDS.forEach((t) => {
    els.push({
      type: "line",
      z: 50,
      silent: true,
      shape: { x1: px(t.from[0]), y1: py(t.panel, t.from[1]), x2: px(t.to[0]), y2: py(t.panel, t.to[1]) },
      style: { stroke: t.color, lineWidth: t.width, lineDash: t.dash || null, lineCap: "butt" },
    });
  });
  NOTES.forEach((n) => {
    els.push(text(px(n.at[0]), py(n.panel, n.at[1]), n.text, { size: 11, weight: "bold", fill: "#1515ee", align: n.align }));
  });
  return els;
}

export default function App() {
  const ref = useRef<HTMLDivElement>(null);
  useEffect(() => {
    const el = ref.current;
    if (!el) return;
    const chart = echarts.init(el, null, { renderer: "svg" });
    chart.setOption(buildOption() as any);
    chart.setOption({ graphic: buildGraphics(chart) } as any);
    return () => chart.dispose();
  }, []);
  return (
    <div
      ref={ref}
      style={{ position: "fixed", left: 0, top: 0, width: 990, height: 744, background: "#ffffff" }}
    />
  );
}
